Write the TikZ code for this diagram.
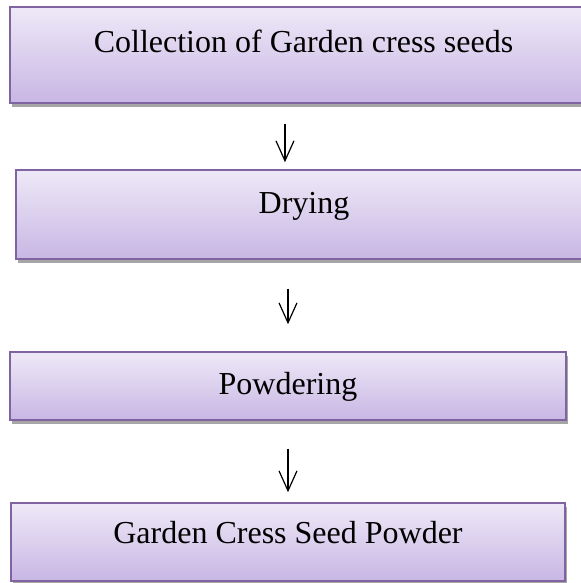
\documentclass[tikz,border=0pt]{standalone}
\usepackage{fontspec}
\setmainfont{Liberation Serif}
\usetikzlibrary{arrows.meta,shadows}
\definecolor{cboxtop}{RGB}{238,233,247}
\definecolor{cboxbot}{RGB}{200,182,228}
\definecolor{cborder}{RGB}{128,100,162}

\begin{document}
\begin{tikzpicture}[x=0.75pt, y=-0.75pt,
    procbox/.style={draw=cborder, line width=1.1pt, top color=cboxtop, bottom color=cboxbot,
      drop shadow={shadow xshift=1.2pt, shadow yshift=-2.8pt, fill=black, opacity=0.35},
      font=\fontsize{24}{28}\selectfont, text height=16pt, inner sep=0pt},
    flowarr/.style={-{Straight Barb[length=15pt, width=13.5pt]}, line width=0.9pt}]
  \useasboundingbox (0,0) rectangle (581,583);
  \clip (0,0) rectangle (581,583);
  \node[procbox, minimum width=440.25pt, minimum height=72pt, text depth=20.5pt]
       (collect) at (303.5,55) {Collection of Garden cress seeds};
  \node[procbox, minimum width=432pt, minimum height=66.75pt, text depth=18.25pt]
       (drying) at (304,214.5) {Drying};
  \node[procbox, minimum width=417pt, minimum height=51pt, text depth=4pt]
       (powder) at (288,386) {Powdering};
  \node[procbox, minimum width=415.5pt, minimum height=58.5pt, text depth=14.5pt]
       (result) at (288,542) {Garden Cress Seed Powder};
  \draw[flowarr, shorten <=15pt, shorten >=5.25pt]
       ([xshift=-13.9pt]collect.south) -- ([xshift=-13.9pt]collect.south |- drying.north);
  \draw[flowarr, shorten <=21.75pt, shorten >=20.25pt]
       (drying.south -| powder.north) -- (powder.north);
  \draw[flowarr, shorten <=21pt, shorten >=7.5pt] (powder.south) -- (result.north);
\end{tikzpicture}
\end{document}
